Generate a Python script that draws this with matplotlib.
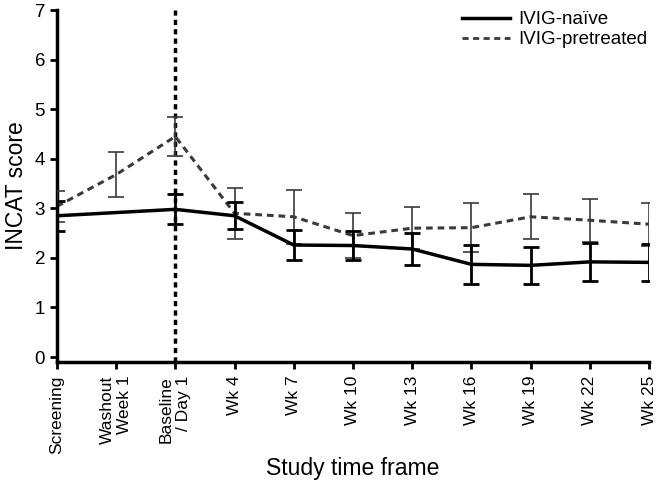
import matplotlib
matplotlib.use("Agg")
import matplotlib.pyplot as plt
from matplotlib.lines import Line2D

plt.rcParams['font.family'] = ['Liberation Sans', 'DejaVu Sans']

categories = ["Screening", "Washout\nWeek 1", "Baseline\n/ Day 1", "Wk 4", "Wk 7",
              "Wk 10", "Wk 13", "Wk 16", "Wk 19", "Wk 22", "Wk 25"]

# IVIG-naive (no washout visit)
naive_idx = [0, 2, 3, 4, 5, 6, 7, 8, 9, 10]
naive_mean = [2.85, 2.98, 2.85, 2.26, 2.25, 2.18, 1.87, 1.85, 1.92, 1.91]
naive_err = [0.30, 0.30, 0.27, 0.30, 0.30, 0.33, 0.40, 0.38, 0.38, 0.37]

# IVIG-pretreated
pre_idx = list(range(11))
pre_mean = [3.04, 3.68, 4.45, 2.90, 2.83, 2.45, 2.60, 2.61, 2.83, 2.76, 2.68]
pre_err = [0.31, 0.46, 0.40, 0.52, 0.54, 0.46, 0.42, 0.49, 0.45, 0.43, 0.43]

fig = plt.figure(figsize=(6.61, 4.82), dpi=100)
ax = fig.add_axes([0.086, 0.249, 0.896, 0.730])

ax.errorbar(pre_idx, pre_mean, yerr=pre_err, color='#3a3a3a', lw=2.2,
            linestyle=(0, (2.2, 1.6)), elinewidth=1.2, capsize=6, capthick=1.2,
            label='IVIG-pretreated', zorder=3)
ax.errorbar(naive_idx, naive_mean, yerr=naive_err, color='black', lw=2.5,
            elinewidth=2.0, capsize=6, capthick=2.0, label='IVIG-naïve', zorder=4)

ax.axvline(2, color='black', lw=2.5, linestyle=(0, (1.5, 1.2)), zorder=2)

ax.set_xlim(0, 10)
ax.set_ylim(-0.1, 7)
ax.set_yticks(range(0, 8))
ax.set_xticks(range(len(categories)))
ax.set_xticklabels(categories, rotation=90, ha='center', va='top',
                   multialignment='right', fontsize=12.5)
ax.tick_params(axis='y', labelsize=13.5)
ax.tick_params(direction='out', length=5, width=2)
ax.tick_params(axis='x', pad=5)

for s in ['top', 'right']:
    ax.spines[s].set_visible(False)
for s in ['left', 'bottom']:
    ax.spines[s].set_linewidth(2.5)

ax.set_ylabel('INCAT score', fontsize=16.5, labelpad=5)
ax.set_xlabel('Study time frame', fontsize=16.5, labelpad=2)

h = [Line2D([], [], color='black', lw=2.5),
     Line2D([], [], color='#3a3a3a', lw=2.0, linestyle=(0, (2.2, 1.6)))]
ax.legend(h, ['IVIG-naïve', 'IVIG-pretreated'], loc='upper right',
          bbox_to_anchor=(1.025, 1.045), frameon=False, fontsize=13.5,
          handlelength=2.6, labelspacing=0.15, handletextpad=0.4)

fig.savefig('out.png', dpi=100)
